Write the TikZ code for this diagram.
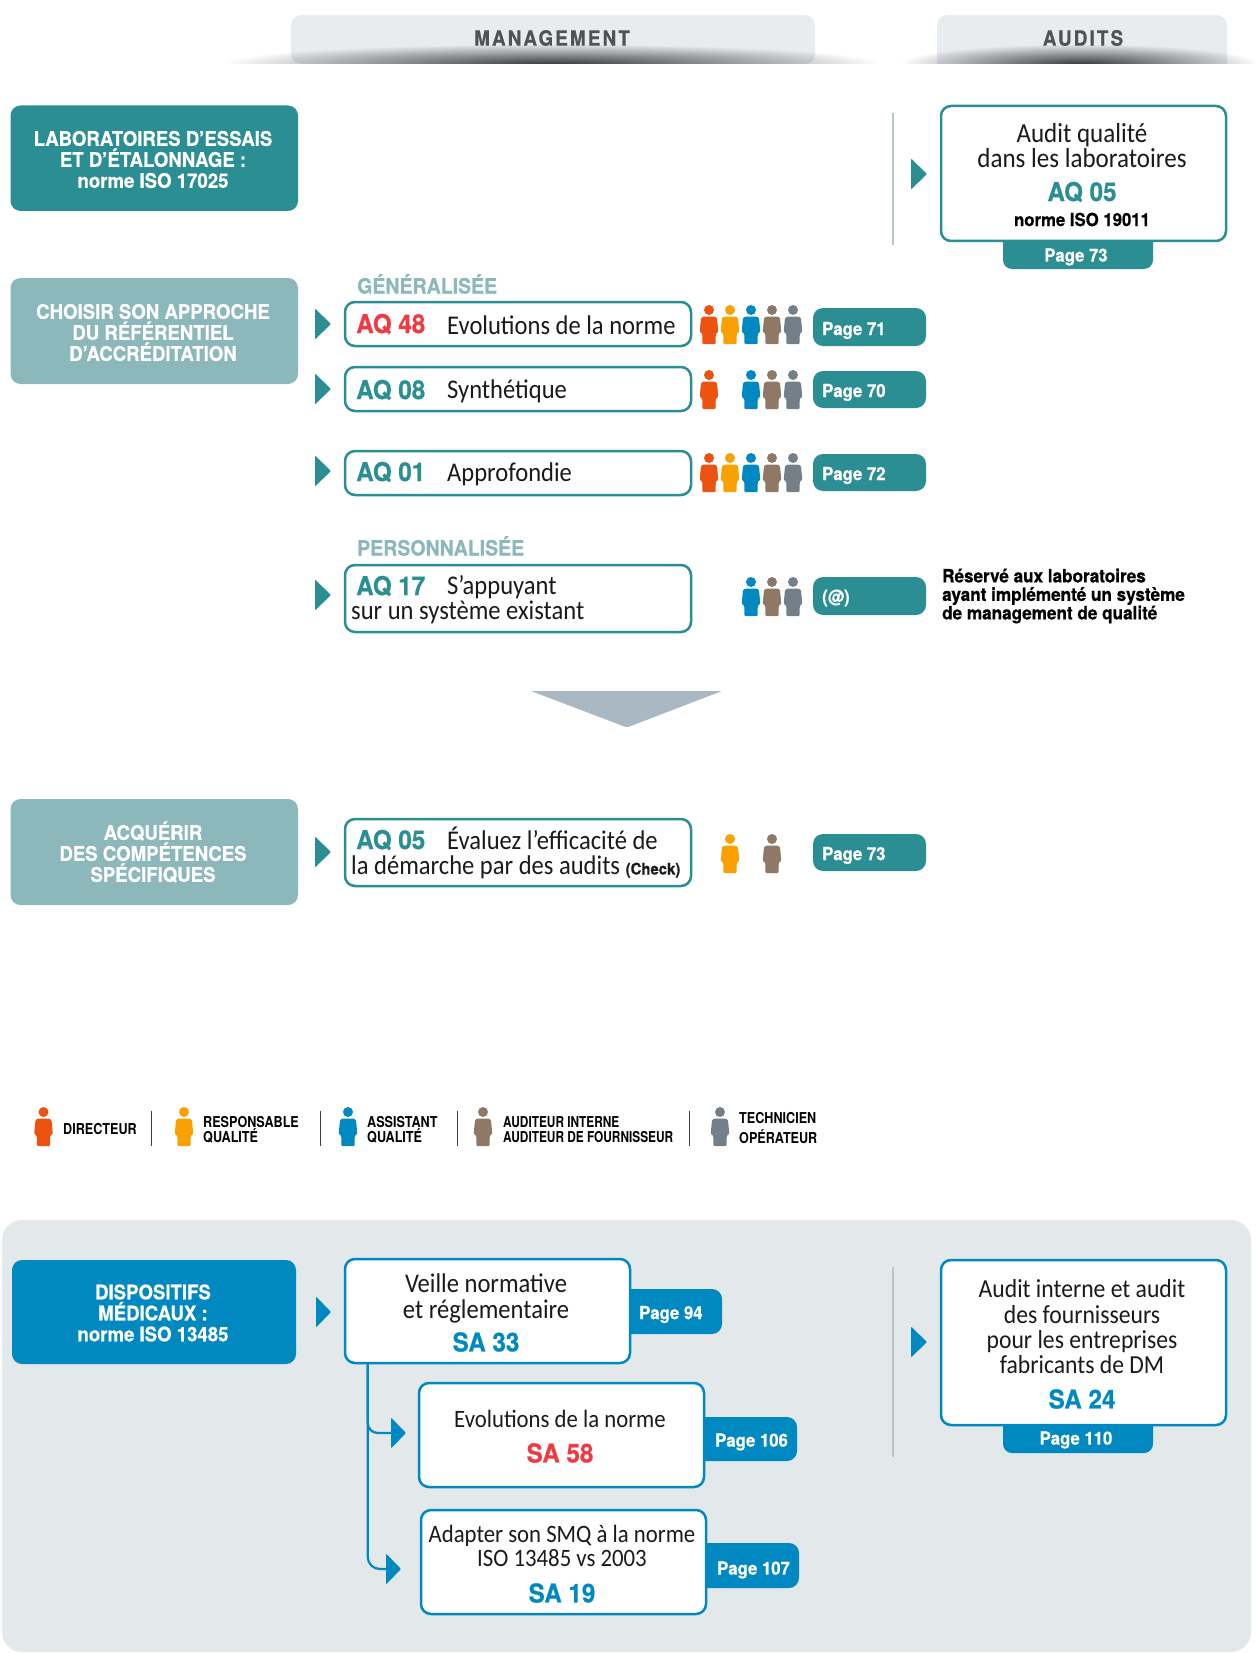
\documentclass[tikz,border=0pt]{standalone}
\usepackage{fontspec}
\setmainfont[FakeStretch=0.91]{Carlito}
\newfontfamily\din[FakeStretch=0.93,BoldFeatures={FakeBold=0.6}]{TeX Gyre Heros}
\newfontfamily\dinleg[FakeStretch=0.84]{TeX Gyre Heros}
\newfontfamily\dinlegn[FakeStretch=0.79]{TeX Gyre Heros}
\newfontfamily\dinsp[LetterSpace=10,FakeStretch=0.9,BoldFeatures={FakeBold=0.6}]{TeX Gyre Heros}
\usetikzlibrary{calc,fadings,shapes.geometric}
\definecolor{teal}{HTML}{2A8E93}
\definecolor{lteal}{HTML}{8DB8BB}
\definecolor{redx}{HTML}{EE3A43}
\definecolor{bluex}{HTML}{0089C1}
\definecolor{orangex}{HTML}{EC5210}
\definecolor{amberx}{HTML}{F9A100}
\definecolor{brownx}{HTML}{8E7866}
\definecolor{slatex}{HTML}{747F87}
\definecolor{panel}{HTML}{E3E8EB}
\definecolor{tabgray}{HTML}{E9ECEF}
\definecolor{sepgray}{HTML}{B9C4CB}
\definecolor{bigtri}{HTML}{A9B8C2}
\definecolor{ink}{HTML}{1A1A1A}
\tikzfading[name=shadowfade, inner color=transparent!10, outer color=transparent!100]
\newcommand{\fz}[2]{\fontsize{#1}{#2}\selectfont}
\tikzset{
  leadtxt/.style={inner sep=0pt, align=center, font=\din\bfseries\fz{20}{21}, text=white},
  bodytxt/.style={inner sep=0pt, text=ink, font=\fz{27}{26}},
  bodyl/.style={bodytxt, anchor=west},
  codetxt/.style={inner sep=0pt, anchor=west, font=\din\bfseries\fz{26}{26}},
  codec/.style={inner sep=0pt, font=\din\bfseries\fz{26}{26}},
  pagetxt/.style={inner sep=0pt, anchor=west, text=white, font=\din\bfseries\fz{18}{18}},
  pagetxtc/.style={inner sep=0pt, text=white, font=\din\bfseries\fz{18}{18}},
  legendtxt/.style={inner sep=0pt, anchor=west, align=left, font=\dinleg\bfseries\fz{15}{15}, text=black},
  sectiontxt/.style={inner sep=0pt, anchor=west, text=lteal, font=\din\bfseries\fz{21}{21}},
  tabhead/.style={inner sep=0pt, text=black!68, font=\dinsp\bfseries\fz{21}{21}},
  sepline/.style={draw=sepgray, line width=1.2pt},
  legsep/.style={draw=black!75, line width=1pt},
  rowbox/.style={draw=teal, line width=2.5pt, fill=white},
  tabteal/.style={fill=teal},
  bluebox/.style={draw=bluex, line width=2.5pt, fill=white},
  tabblue/.style={fill=bluex},
}
% name x1 y1 x2 y2 radius style
\newcommand{\bx}[7]{\node[rectangle, rounded corners=#6, inner sep=0pt,
  minimum width={(#4-#2)*1pt}, minimum height={(#5-#3)*1pt}, #7] (#1) at ({(#2+#4)/2},{(#3+#5)/2})}
\newcommand{\tri}[4]{\fill[#4, rounded corners=1pt] (#1,#2-15.5) -- (#3,#2) -- (#1,#2+15.5) -- cycle;}
\newcommand{\person}[3]{\begin{scope}[shift={(#1,#2)}]
  \fill[#3] (0,5) circle[radius=5];
  \fill[#3, rounded corners=1pt] (-5.5,11.5) -- (5.5,11.5) -- (8,13) -- (9.3,27) -- (6.8,28.5) -- (6.5,39) -- (-6.5,39) -- (-6.8,28.5) -- (-9.3,27) -- (-8,13) -- cycle;
\end{scope}}
\begin{document}
\begin{tikzpicture}[x=1pt,y=-1pt]
\useasboundingbox (0,0) rectangle (1255,1653);
% headers
\fill[tabgray, rounded corners=10pt] (291,64) -- (291,15) -- (815,15) -- (815,64) -- cycle;
\fill[tabgray, rounded corners=10pt] (937,64) -- (937,15) -- (1227,15) [sharp corners] -- (1227,64) -- cycle;
\begin{scope}
\clip (0,0) rectangle (1255,64);
\fill[black!85, path fading=shadowfade] (552,64) ellipse[x radius=330, y radius=20];
\fill[black!85, path fading=shadowfade] (1080,64) ellipse[x radius=180, y radius=20];
\end{scope}
\node[tabhead] (hman) at (552,38) {MANAGEMENT};
\node[tabhead] (haud) at (1083,38) {AUDITS};
% left boxes
\bx{labo}{10.5}{105.5}{298}{211}{10pt}{fill=teal}{};
\node[leadtxt] (labot) at (153,159.5) {LABORATOIRES D’ESSAIS\\ET D’ÉTALONNAGE :\\norme ISO 17025};
\bx{choisir}{10.5}{278}{298}{384}{10pt}{fill=lteal}{};
\node[leadtxt] (choisirt) at (153,332.5) {CHOISIR SON APPROCHE\\DU RÉFÉRENTIEL\\D’ACCRÉDITATION};
\bx{acq}{10.5}{799}{298}{905}{10pt}{fill=lteal}{};
\node[leadtxt] (acqt) at (153,852) {ACQUÉRIR\\DES COMPÉTENCES\\SPÉCIFIQUES};
% audit qualite
\draw[sepline] (893,113) -- (893,245);
\tri{911}{174}{927}{teal}
\bx{pa}{1003}{225}{1153}{269}{9pt}{fill=teal}{};
\bx{audit}{941}{106}{1226}{241}{10pt}{rowbox}{};
\node[bodytxt, align=center, font=\fz{27.5}{25}] (auditt) at (1082,145.5) {Audit qualité\\dans les laboratoires};
\node[codec, text=teal] (auditc) at (1082,192) {AQ 05};
\node[inner sep=0pt, font=\din\bfseries\fz{18}{18}] (auditn) at (1082,219.5) {norme ISO 19011};
\node[pagetxtc] (pat) at (1076,257) {Page 73};
% section labels
\node[sectiontxt] (gen) at (357,284) {GÉNÉRALISÉE};
\node[sectiontxt] (per) at (357,546) {PERSONNALISÉE};
% rows
\tri{315}{324}{331}{teal}
\bx{r1}{345}{302}{691}{346}{10pt}{rowbox}{};
\node[codetxt, text=redx] (r1c) at (356,324) {AQ 48};
\node[bodyl] (r1t) at (447,325) {Evolutions de la norme};
\bx{p1}{813}{308}{926}{346}{10pt}{tabteal}{};
\node[pagetxt] (p1t) at (822,330.5) {Page 71};
\tri{315}{389}{331}{teal}
\bx{r2}{345}{367}{691}{411}{10pt}{rowbox}{};
\node[codetxt, text=teal] (r2c) at (356,390) {AQ 08};
\node[bodyl] (r2t) at (447,391) {Synthétique};
\bx{p2}{813}{371}{926}{408}{10pt}{tabteal}{};
\node[pagetxt] (p2t) at (822,392.5) {Page 70};
\tri{315}{471}{331}{teal}
\bx{r3}{345}{451}{691}{495}{10pt}{rowbox}{};
\node[codetxt, text=teal] (r3c) at (356,472) {AQ 01};
\node[bodyl] (r3t) at (447,474) {Approfondie};
\bx{p3}{813}{454}{926}{491}{10pt}{tabteal}{};
\node[pagetxt] (p3t) at (822,475.5) {Page 72};
\tri{315}{595}{331}{teal}
\bx{r4}{345}{565}{691}{632}{10pt}{rowbox}{};
\node[codetxt, text=teal] (r4c) at (356,586) {AQ 17};
\node[bodyl] (r4t) at (447,587) {S’appuyant};
\node[bodyl] (r4u) at (351,612) {sur un système existant};
\bx{p4}{813}{577}{926}{615}{10pt}{tabteal}{};
\node[pagetxt] (p4t) at (822,598) {(@)};
\node[inner sep=0pt, anchor=west, align=left, font=\din\bfseries\fz{18.4}{18.5}] (note) at (942,596) {Réservé aux laboratoires\\ayant implémenté un système\\de management de qualité};
% people
\foreach \yy/\list in {305/{709/orangex,730/amberx,751/bluex,772/brownx,793/slatex},
  370/{709/orangex,751/bluex,772/brownx,793/slatex},
  453/{709/orangex,730/amberx,751/bluex,772/brownx,793/slatex},
  577/{751/bluex,772/brownx,793/slatex},
  834/{730/amberx,772/brownx}}{
  \foreach \xx/\cc in \list {\person{\xx}{\yy}{\cc}}
}
% big arrow
\fill[bigtri, rounded corners=2pt] (531,691) -- (722,691) -- (627,727.5) -- cycle;
% AQ05
\tri{315}{852}{331}{teal}
\bx{r5}{345}{819}{691}{886}{10pt}{rowbox}{};
\node[codetxt, text=teal] (r5c) at (356,840) {AQ 05};
\node[bodytxt, anchor=base west, text height=17pt, text depth=5pt] (r5t) at (447,849.5) {Évaluez l’efficacité de};
\node[bodytxt, anchor=base west, text height=17pt, text depth=5pt] (r5u) at (351,874.5) {la démarche par des audits {\din\bfseries\fz{16}{16}(Check)}};
\bx{p5}{813}{834}{926}{871}{10pt}{tabteal}{};
\node[pagetxt] (p5t) at (822,855.5) {Page 73};
% legend
\person{43.5}{1107}{orangex}
\person{184}{1107}{amberx}
\person{348}{1107}{bluex}
\person{483}{1107}{brownx}
\person{720}{1107}{slatex}
\draw[legsep] (151,1111) -- (151,1146);
\draw[legsep] (320,1111) -- (320,1146);
\draw[legsep] (457,1111) -- (457,1146);
\draw[legsep] (689,1111) -- (689,1146);
\node[legendtxt] (l1) at (63,1129) {DIRECTEUR};
\node[legendtxt] (l2) at (203,1130) {RESPONSABLE\\QUALITÉ};
\node[legendtxt] (l3) at (367,1130) {ASSISTANT\\QUALITÉ};
\node[legendtxt, font=\dinlegn\bfseries\fz{15}{15}] (l4) at (503,1130) {AUDITEUR INTERNE\\AUDITEUR DE FOURNISSEUR};
\node[legendtxt, font=\dinleg\bfseries\fz{15}{20}] (l5) at (739,1128) {TECHNICIEN\\OPÉRATEUR};
% panel
\fill[panel, rounded corners=20pt] (2,1220) rectangle (1251,1652);
\bx{dm}{12}{1260}{296}{1364}{10pt}{fill=bluex}{};
\node[leadtxt] (dmt) at (153,1313) {DISPOSITIFS\\MÉDICAUX :\\norme ISO 13485};
\tri{316}{1312}{331}{bluex}
\bx{t33}{600}{1289}{722}{1334}{10pt}{tabblue}{};
\bx{s33}{345}{1259}{630}{1363}{10pt}{bluebox}{};
\node[bodytxt, align=center, font=\fz{27}{26}] (s33t) at (486,1298) {Veille normative\\et réglementaire};
\node[codec, text=bluex] (s33c) at (486,1342) {SA 33};
\node[pagetxt] (t33t) at (639,1314.5) {Page 94};
\bx{t58}{680}{1417}{797}{1461}{10pt}{tabblue}{};
\bx{s58}{419}{1383}{704}{1487}{10pt}{bluebox}{};
\node[bodytxt, font=\fz{25}{25}] (s58t) at (560,1419) {Evolutions de la norme};
\node[codec, text=redx] (s58c) at (560,1453) {SA 58};
\node[pagetxt] (t58t) at (715,1442) {Page 106};
\bx{t19}{680}{1543}{799}{1588}{10pt}{tabblue}{};
\bx{s19}{421}{1510}{706}{1614}{10pt}{bluebox}{};
\node[bodytxt, align=center, font=\fz{25}{24}] (s19t) at (562,1546) {Adapter son SMQ à la norme\\ISO 13485 vs 2003};
\node[codec, text=bluex] (s19c) at (562,1593) {SA 19};
\node[pagetxt] (t19t) at (717,1570) {Page 107};
% connectors
\coordinate (trunk) at ($(s33.south west)+(24,0)$);
\coordinate (a1) at (392,1433);
\coordinate (a2) at (387,1569);
\draw[bluex, line width=2.2pt, rounded corners=10pt] (trunk) |- (a1);
\draw[bluex, line width=2.2pt, rounded corners=12pt] (trunk) |- (a2);
\tri{391}{1433}{406}{bluex}
\tri{386}{1569}{401}{bluex}
% right
\draw[sepline] (893,1267) -- (893,1457);
\tri{911}{1342}{927}{bluex}
\bx{tp}{1003}{1405}{1153}{1453}{9pt}{tabblue}{};
\bx{s24}{941}{1260}{1226}{1425}{10pt}{bluebox}{};
\node[bodytxt, align=center, font=\fz{26}{25.3}] (s24t) at (1082,1327) {Audit interne et audit\\des fournisseurs\\pour les entreprises\\fabricants de DM};
\node[codec, text=bluex] (s24c) at (1082,1399) {SA 24};
\node[pagetxtc] (tpt) at (1076,1440) {Page 110};
\end{tikzpicture}
\end{document}
